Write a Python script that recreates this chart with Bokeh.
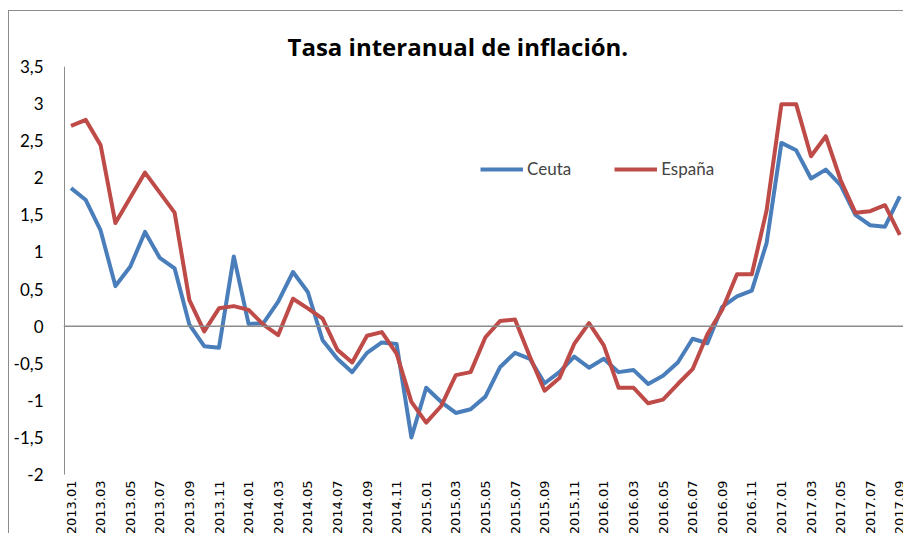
import math
from bokeh.plotting import figure
from bokeh.models import Range1d, FixedTicker, Span, Legend, LegendItem
from bokeh.core.properties import value
from bokeh.embed import file_html
from bokeh.resources import INLINE

title_text = "Tasa interanual de inflación."

periods = [f"{y}.{m:02d}" for y in range(2013, 2018) for m in range(1, 13)][:57]

ceuta = [1.86, 1.70, 1.29, 0.54, 0.80, 1.27, 0.92, 0.78, 0.02, -0.27, -0.29, 0.94,
         0.03, 0.04, 0.33, 0.73, 0.46, -0.19, -0.44, -0.62, -0.36, -0.22, -0.24, -1.50,
         -0.83, -1.02, -1.17, -1.12, -0.95, -0.55, -0.36, -0.44, -0.77, -0.62, -0.41, -0.56,
         -0.44, -0.62, -0.59, -0.78, -0.67, -0.49, -0.17, -0.23, 0.26, 0.40, 0.48, 1.12,
         2.47, 2.37, 1.99, 2.11, 1.90, 1.50, 1.36, 1.34, 1.75]

espana = [2.70, 2.78, 2.44, 1.39, 1.73, 2.07, 1.80, 1.53, 0.35, -0.07, 0.24, 0.27,
          0.22, 0.02, -0.12, 0.37, 0.24, 0.10, -0.32, -0.49, -0.13, -0.08, -0.37, -1.02,
          -1.30, -1.08, -0.66, -0.62, -0.15, 0.07, 0.09, -0.41, -0.87, -0.70, -0.24, 0.04,
          -0.26, -0.83, -0.83, -1.04, -0.99, -0.78, -0.58, -0.11, 0.22, 0.70, 0.70, 1.56,
          2.99, 2.99, 2.29, 2.56, 1.97, 1.53, 1.55, 1.63, 1.23]

y_ticks = [-2, -1.5, -1, -0.5, 0, 0.5, 1, 1.5, 2, 2.5, 3, 3.5]
y_tick_labels = ["-2", "-1,5", "-1", "-0,5", "0", "0,5", "1", "1,5", "2", "2,5", "3", "3,5"]

x_idx = list(range(len(periods)))
x_tick_idx = x_idx[::2]
x_tick_labels = [periods[i] for i in x_tick_idx]

y_min, y_max = y_ticks[0], y_ticks[-1]
x_start, x_end = -0.507, 56.25
y_start = -2.795

p = figure(width=903, height=533, output_backend="svg", toolbar_location=None,
           x_range=Range1d(x_start, x_end), y_range=Range1d(y_start, y_max),
           min_border_left=63, min_border_right=0, min_border_top=66, min_border_bottom=0)
p.styles = {"box-shadow": "inset 8px 10px 0 0 #ffffff, inset 9px 11px 0 0 #8c8c8c"}
p.border_fill_alpha = 0
p.background_fill_alpha = 0
p.outline_line_color = None
p.xgrid.visible = False
p.ygrid.visible = False
p.xaxis.visible = False

# y axis (labels only; axis line drawn as a segment from -2 to 3.5)
p.yaxis.ticker = FixedTicker(ticks=y_ticks)
p.yaxis.major_label_overrides = {t: l for t, l in zip(y_ticks, y_tick_labels)}
p.yaxis.major_tick_out = 0
p.yaxis.major_tick_in = 0
p.yaxis.minor_tick_out = 0
p.yaxis.minor_tick_in = 0
p.yaxis.axis_line_color = None
p.yaxis.major_label_standoff = 20
p.yaxis.major_label_text_font = "Lato"
p.yaxis.major_label_text_font_size = "17px"
p.yaxis.major_label_text_color = "black"

axis_x = x_start + 1.0 / 14.8
p.segment(x0=[axis_x], y0=[y_min], x1=[axis_x], y1=[y_max], line_color="#8c8c8c", line_width=1)

zero = Span(location=0, dimension="width", line_color="#8c8c8c", line_width=1.5)
p.add_layout(zero)

# category labels below the plot area, rotated
p.text(x=x_tick_idx, y=[y_min] * len(x_tick_idx), text=x_tick_labels, angle=math.pi / 2,
       text_align="right", text_baseline="middle", y_offset=6,
       text_font=value("DejaVu Sans"), text_font_size="13px", text_color="black")

r1 = p.line(x_idx, ceuta, line_color="#4a7ebb", line_width=4, line_join="round")
r2 = p.line(x_idx, espana, line_color="#be4b48", line_width=4, line_join="round")

legend = Legend(items=[LegendItem(label="Ceuta", renderers=[r1]),
                       LegendItem(label="España", renderers=[r2])],
                orientation="horizontal", location=(417, 354),
                padding=0, margin=0, spacing=43, glyph_width=43, glyph_height=18,
                label_standoff=4, label_text_font="Lato", label_text_font_size="17px",
                border_line_color=None, background_fill_alpha=0)
p.add_layout(legend, "center")

p.title.text = title_text
p.title.align = "left"
p.title.offset = 224
p.title.standoff = 8
p.title.text_font = "Open Sans"
p.title.text_font_style = "bold"
p.title.text_font_size = "24px"
p.title.text_color = "black"

open("out.html", "w").write(file_html(p, INLINE))
